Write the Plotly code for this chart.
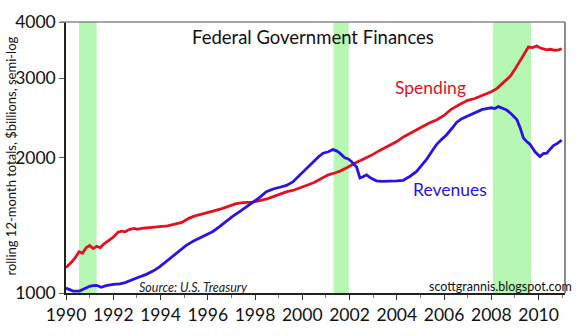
import plotly.graph_objects as go

# Rolling 12-month federal spending, $ billions
spend_year = [1990.0, 1990.2, 1990.4, 1990.55, 1990.7, 1990.85, 1991.0, 1991.15, 1991.3, 1991.45,
              1991.6, 1991.8, 1992.0, 1992.2, 1992.35, 1992.5, 1992.7, 1992.9, 1993.0, 1993.2,
              1993.5, 1993.8, 1994.0, 1994.3, 1994.6, 1994.9, 1995.2, 1995.4, 1995.7, 1996.0,
              1996.3, 1996.6, 1996.8, 1997.0, 1997.2, 1997.5, 1997.9, 1998.2, 1998.5, 1998.8,
              1999.1, 1999.35, 1999.6, 1999.9, 2000.2, 2000.5, 2000.8, 2001.1, 2001.4, 2001.6,
              2001.9, 2002.1, 2002.3, 2002.6, 2002.9, 2003.3, 2003.6, 2004.0, 2004.3, 2004.7,
              2005.0, 2005.4, 2005.7, 2006.0, 2006.3, 2006.7, 2007.0, 2007.3, 2007.5, 2007.8,
              2008.0, 2008.23, 2008.5, 2008.8, 2009.0, 2009.22, 2009.4, 2009.57, 2009.75, 2009.92,
              2010.1, 2010.35, 2010.5, 2010.7, 2010.85, 2010.98]
spending = [1140, 1165, 1200, 1235, 1225, 1260, 1275, 1255, 1270, 1262,
            1285, 1305, 1330, 1365, 1372, 1368, 1385, 1392, 1385, 1392,
            1398, 1400, 1404, 1410, 1422, 1435, 1465, 1480, 1495, 1512,
            1525, 1540, 1552, 1565, 1580, 1588, 1592, 1605, 1618, 1640,
            1662, 1680, 1690, 1710, 1735, 1760, 1795, 1830, 1850, 1866,
            1900, 1930, 1953, 1985, 2020, 2077, 2120, 2170, 2225, 2280,
            2330, 2390, 2426, 2480, 2560, 2630, 2680, 2705, 2731, 2770,
            2800, 2846, 2930, 3030, 3140, 3280, 3400, 3520, 3510, 3540,
            3500, 3470, 3480, 3460, 3470, 3490]

# Rolling 12-month federal revenues, $ billions
rev_year = [1990.0, 1990.3, 1990.57, 1990.8, 1991.0, 1991.14, 1991.3, 1991.49, 1991.7, 1992.0,
            1992.27, 1992.5, 1992.82, 1993.1, 1993.4, 1993.7, 1993.96, 1994.25, 1994.53, 1994.8,
            1995.09, 1995.4, 1995.66, 1995.95, 1996.22, 1996.5, 1996.79, 1997.05, 1997.35, 1997.65,
            1997.92, 1998.2, 1998.48, 1998.8, 1999.05, 1999.33, 1999.6, 1999.9, 2000.2, 2000.46,
            2000.7, 2000.88, 2001.1, 2001.3, 2001.45, 2001.59, 2001.8, 2001.95, 2002.08, 2002.3,
            2002.44, 2002.55, 2002.72, 2002.9, 2003.14, 2003.4, 2003.71, 2004.0, 2004.27, 2004.55,
            2004.84, 2005.05, 2005.26, 2005.5, 2005.69, 2005.9, 2006.11, 2006.33, 2006.53, 2006.75,
            2006.96, 2007.2, 2007.38, 2007.6, 2007.8, 2008.0, 2008.15, 2008.3, 2008.5, 2008.65,
            2008.85, 2009.08, 2009.22, 2009.36, 2009.5, 2009.64, 2009.85, 2010.06, 2010.2, 2010.35,
            2010.5, 2010.63, 2010.8, 2010.98]
revenues = [1025, 1010, 1010, 1025, 1035, 1038, 1040, 1030, 1038, 1045,
            1048, 1055, 1073, 1085, 1100, 1120, 1143, 1175, 1207, 1240,
            1276, 1305, 1327, 1348, 1370, 1405, 1447, 1480, 1517, 1555,
            1590, 1632, 1679, 1705, 1718, 1734, 1765, 1830, 1890, 1951,
            2010, 2045, 2060, 2083, 2070, 2045, 1997, 1985, 1960, 1905,
            1802, 1810, 1830, 1800, 1775, 1770, 1770, 1775, 1780, 1815,
            1862, 1920, 1980, 2070, 2140, 2195, 2247, 2320, 2393, 2440,
            2470, 2505, 2530, 2555, 2570, 2580, 2570, 2595, 2570, 2550,
            2500, 2430, 2330, 2210, 2170, 2140, 2060, 2010, 2040, 2045,
            2090, 2126, 2150, 2185]

# Recession periods (start, end)
recessions = [(1990.55, 1991.3), (2001.33, 2001.97), (2008.07, 2009.68)]

x_ticks = [1990, 1992, 1994, 1996, 1998, 2000, 2002, 2004, 2006, 2008, 2010]
y_ticks = [1000, 2000, 3000, 4000]

FONT = "Lato"
RED = "#e3101f"
BLUE = "#2a12e0"

fig = go.Figure()

fig.add_trace(go.Scatter(x=spend_year, y=spending, mode="lines",
                         line=dict(color=RED, width=2.8), hoverinfo="skip"))
fig.add_trace(go.Scatter(x=rev_year, y=revenues, mode="lines",
                         line=dict(color=BLUE, width=2.8), hoverinfo="skip"))

for start, end in recessions:
    fig.add_shape(type="rect", xref="x", yref="paper", x0=start, x1=end, y0=0, y1=1,
                  fillcolor="#b6f7b3", line=dict(width=0), layer="below")

# frame: grey top and right edges
fig.add_shape(type="line", xref="paper", yref="paper", x0=-0.012, x1=1, y0=1, y1=1,
              line=dict(color="#8a8a8a", width=1.5))
fig.add_shape(type="line", xref="paper", yref="paper", x0=1, x1=1, y0=0, y1=1,
              line=dict(color="#666666", width=1.5))

fig.update_layout(
    width=577, height=336,
    margin=dict(l=66, r=12, t=11, b=31),
    paper_bgcolor="white", plot_bgcolor="white",
    showlegend=False,
    font=dict(family=FONT, color="#111111"),
    xaxis=dict(range=[1990, 2011.12], tickvals=x_ticks, ticktext=[str(v) for v in x_ticks],
               ticks="outside", ticklen=5, tickcolor="#333333", tickwidth=1,
               minor=dict(dtick=1, ticks="outside", ticklen=3, tickcolor="#777777"),
               showgrid=False, zeroline=False,
               showline=True, linecolor="#222222", linewidth=1.5,
               tickfont=dict(size=17.5, family=FONT, color="#111111")),
    yaxis=dict(type="log", range=[3, 3.6022], tickvals=y_ticks,
               ticktext=[str(v) for v in y_ticks], ticklabeloverflow="allow",
               ticks="outside", ticklen=5, tickcolor="#555555", tickwidth=1,
               showgrid=False, zeroline=False,
               showline=True, linecolor="#222222", linewidth=1.5,
               tickfont=dict(size=17.5, family=FONT, color="#111111")),
)

W, H = 499, 294


def px(xp):
    return (xp - 66) / W


def py(yp):
    return (305 - yp) / H


annotations = [
    dict(text="Federal Government Finances", x=px(313), y=py(27), size=18.5, color="#111111"),
    dict(text="Spending", x=px(430), y=py(82), size=17.5, color=RED),
    dict(text="Revenues", x=px(450), y=py(193), size=17.5, color=BLUE),
    dict(text="<i>Source: U.S. Treasury</i>", x=px(193), y=py(299), size=12.5, color="#222222"),
    dict(text="scottgrannis.blogspot.com", x=px(500), y=py(298), size=12.5, color="#111111"),
]
for a in annotations:
    fig.add_annotation(text=a["text"], xref="paper", yref="paper", x=a["x"], y=a["y"],
                       xanchor="center", yanchor="middle", showarrow=False,
                       font=dict(size=a["size"], color=a["color"], family=FONT))

fig.add_annotation(text="rolling 12-month totals, $billions, semi-log", textangle=-90,
                   xref="paper", yref="paper", x=px(11), y=py(157),
                   xanchor="center", yanchor="middle", showarrow=False,
                   font=dict(size=13, color="#111111", family=FONT))

fig.write_html("out.html")
